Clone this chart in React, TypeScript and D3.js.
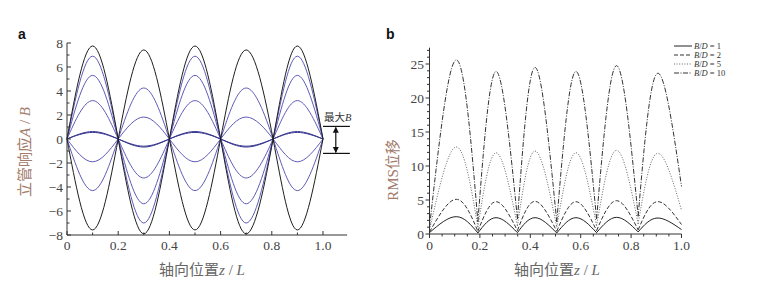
import React from "react";
import * as d3 from "d3";

// ---------- Panel a data ----------
const zPointsA = [0, 0.1, 0.2, 0.3, 0.4, 0.5, 0.6, 0.7, 0.805, 0.9, 1.0];
// values at extrema (z = 0.1, 0.3, 0.5, 0.7, 0.9); nodes are 0
const blackExtrema = [
  [7.75, -7.9, 7.75, -7.9, 7.75],
  [-7.58, 7.42, -7.58, 7.42, -7.58],
];
const blueExtrema = [
  [6.9, -7.0, 6.9, -7.0, 6.9],
  [5.3, -5.4, 5.3, -5.4, 5.3],
  [3.2, -3.25, 3.2, -3.25, 3.2],
  [-1.9, 1.83, -1.9, 1.83, -1.9],
  [-4.3, 4.25, -4.3, 4.25, -4.3],
];
const darkBlueExtrema = [
  [0.62, -0.67, 0.62, -0.67, 0.62],
  [0.55, -0.6, 0.55, -0.6, 0.55],
];
const maxBBracket = [1.05, -1.2];
const xTicksA = [0, 0.2, 0.4, 0.6, 0.8, 1.0];
const yTicksA = [8, 6, 4, 2, 0, -2, -4, -6, -8];

// ---------- Panel b data ----------
const zNodesB = [0, 0.192, 0.349, 0.505, 0.663, 0.828, 1.0];
const zPeaksB = [0.106, 0.264, 0.419, 0.581, 0.742, 0.903];
const seriesNames = ["1", "2", "5", "10"];
const peaksB = [
  [2.55, 2.4, 2.4, 2.4, 2.45, 2.35],
  [5.1, 4.75, 4.8, 4.75, 4.9, 4.75],
  [12.8, 11.95, 12.2, 11.95, 12.3, 11.85],
  [25.6, 23.9, 24.5, 23.9, 24.75, 23.6],
];
const nodesB = [
  [0.2, 0.15, 0.2, 0.15, 0.2, 0.3, 0.65],
  [0.3, 0.4, 0.5, 0.4, 0.5, 0.6, 1.4],
  [0.6, 1.0, 1.2, 1.0, 1.2, 1.5, 3.5],
  [1.0, 1.8, 2.2, 1.8, 2.2, 2.6, 7.0],
];
const xTicksB = [0, 0.2, 0.4, 0.6, 0.8, 1.0];
const yTicksB = [0, 5, 10, 15, 20, 25];

const serif = "'Liberation Serif', 'DejaVu Serif', serif";
const cjk = "'Noto Sans CJK SC', sans-serif";

const dashStyles = ["none", "4,2", "1,1.6", "5,1.5,1,1.5"];
const seriesColors = ["#222", "#333", "#666", "#333"];

function fmt(v: number) {
  if (v === 0) return "0";
  if (v < 0) return "\u2212" + Math.abs(v);
  return String(v);
}

export default function App() {
  // Panel a scales
  const xA = d3.scaleLinear().domain([0, 1]).range([67, 323]);
  const yA = d3.scaleLinear().domain([-8, 8]).range([235, 43]);
  const lineA = d3
    .line<[number, number]>()
    .x((d) => xA(d[0]))
    .y((d) => yA(d[1]))
    .curve(d3.curveNatural);
  const toPts = (ext: number[]): [number, number][] =>
    zPointsA.map((z, i) => [z, i % 2 === 1 ? ext[(i - 1) / 2] : 0]);

  // Panel b scales
  const xB = d3.scaleLinear().domain([0, 1]).range([429.5, 681.5]);
  const yB = d3.scaleLinear().domain([0, 25]).range([234, 64]);
  const lineB = d3
    .line<[number, number]>()
    .x((d) => xB(d[0]))
    .y((d) => yB(d[1]))
    .curve(d3.curveNatural);
  const seriesPath = (s: number) =>
    zPeaksB
      .map((zp, i) =>
        lineB([
          [zNodesB[i], nodesB[s][i]],
          [zp, peaksB[s][i]],
          [zNodesB[i + 1], nodesB[s][i + 1]],
        ])
      )
      .join("");

  const minorXA = d3.range(0, 1.01, 0.1);
  const minorYA = d3.range(-8, 8.01, 1);
  const minorXB = d3.range(0, 1.001, 0.05);
  const minorYB = d3.range(0, 27.01, 1);

  const arrowX = (xA(1.0) + xA(1.1)) / 2;

  return (
    <svg
      width={777}
      height={308}
      style={{ position: "absolute", left: 0, top: 0, background: "#fff" }}
    >
      <defs>
        <marker id="ah" viewBox="0 0 10 10" refX="9" refY="5" markerWidth="5" markerHeight="6" orient="auto-start-reverse">
          <path d="M0,0 L10,5 L0,10 z" fill="#111" />
        </marker>
      </defs>
      {/* ---------- Panel a ---------- */}
      <text x={18} y={39} fontFamily="Arial, 'Liberation Sans', sans-serif" fontWeight="bold" fontSize={14} fill="#111">a</text>
      <g>
        {blueExtrema.map((e, i) => (
          <path key={"bl" + i} d={lineA(toPts(e)) || ""} fill="none" stroke="#5f5bb8" strokeWidth={1} />
        ))}
        {darkBlueExtrema.map((e, i) => (
          <path key={"db" + i} d={lineA(toPts(e)) || ""} fill="none" stroke="#34338f" strokeWidth={1} />
        ))}
        {blackExtrema.map((e, i) => (
          <path key={"bk" + i} d={lineA(toPts(e)) || ""} fill="none" stroke="#1e1e1e" strokeWidth={1} />
        ))}
      </g>
      {/* axes a */}
      <line x1={xA(0)} x2={xA(0)} y1={yA(-8)} y2={yA(8)} stroke="#333" strokeWidth={1} />
      <line x1={xA(0)} x2={xA(1.094)} y1={yA(-8)} y2={yA(-8)} stroke="#333" strokeWidth={1} />
      {minorXA.map((t, i) => (
        <line key={"mxa" + i} x1={xA(t)} x2={xA(t)} y1={yA(-8)} y2={yA(-8) - (i % 2 === 0 ? 4 : 2.5)} stroke="#333" />
      ))}
      {minorYA.map((t, i) => (
        <line key={"mya" + i} x1={xA(0)} x2={xA(0) + (i % 2 === 0 ? 4 : 2.5)} y1={yA(t)} y2={yA(t)} stroke="#333" />
      ))}
      {xTicksA.map((t) => (
        <text key={"xa" + t} x={xA(t)} y={250} textAnchor="middle" fontFamily={serif} fontSize={13.5} fill="#444">
          {t === 0 ? "0" : t.toFixed(1)}
        </text>
      ))}
      {yTicksA.map((t) => (
        <text key={"ya" + t} x={63} y={yA(t) + 4.5} textAnchor="end" fontFamily={serif} fontSize={13.5} fill="#444">
          {fmt(t)}
        </text>
      ))}
      <text x={202} y={275} textAnchor="middle" fontSize={15} fill="#666">
        <tspan fontFamily={cjk}>轴向位置</tspan>
        <tspan fontFamily={serif} fontStyle="italic">z</tspan>
        <tspan fontFamily={serif}> / </tspan>
        <tspan fontFamily={serif} fontStyle="italic">L</tspan>
      </text>
      <text transform={`translate(30,152) rotate(-90)`} textAnchor="middle" fontSize={15} fill="#a27c6c">
        <tspan fontFamily={cjk}>立管响应</tspan>
        <tspan fontFamily={serif} fontStyle="italic">A</tspan>
        <tspan fontFamily={serif}> / </tspan>
        <tspan fontFamily={serif} fontStyle="italic">B</tspan>
      </text>
      {/* max B bracket */}
      {maxBBracket.map((v, i) => (
        <line key={"mb" + i} x1={xA(1.0)} x2={xA(1.105)} y1={yA(v)} y2={yA(v)} stroke="#111" strokeWidth={1.2} />
      ))}
      <line x1={arrowX} x2={arrowX} y1={yA(maxBBracket[0]) + 1} y2={yA(maxBBracket[1]) - 1} stroke="#111" strokeWidth={1.2} markerStart="url(#ah)" markerEnd="url(#ah)" />
      <text x={324} y={121} fontSize={10.5} fill="#333">
        <tspan fontFamily={cjk}>最大</tspan>
        <tspan fontFamily={serif} fontStyle="italic">B</tspan>
      </text>

      {/* ---------- Panel b ---------- */}
      <text x={386} y={39} fontFamily="Arial, 'Liberation Sans', sans-serif" fontWeight="bold" fontSize={14} fill="#111">b</text>
      {seriesNames.map((n, s) => (
        <path key={"sb" + n} d={seriesPath(s)} fill="none" stroke={seriesColors[s]} strokeWidth={1} strokeDasharray={dashStyles[s]} />
      ))}
      <line x1={xB(0)} x2={xB(0)} y1={yB(0)} y2={yB(27.4)} stroke="#333" strokeWidth={1} />
      <line x1={xB(0)} x2={xB(1)} y1={yB(0)} y2={yB(0)} stroke="#333" strokeWidth={1} />
      {minorXB.map((t, i) => (
        <line key={"mxb" + i} x1={xB(t)} x2={xB(t)} y1={yB(0)} y2={yB(0) + (i % 4 === 0 ? 4 : 2.5)} stroke="#333" />
      ))}
      {minorYB.map((t, i) => (
        <line key={"myb" + i} x1={xB(0)} x2={xB(0) - (i % 5 === 0 ? 4 : 2.5)} y1={yB(t)} y2={yB(t)} stroke="#333" />
      ))}
      {xTicksB.map((t) => (
        <text key={"xb" + t} x={xB(t)} y={250} textAnchor="middle" fontFamily={serif} fontSize={13.5} fill="#444">
          {t === 0 ? "0" : t.toFixed(1)}
        </text>
      ))}
      {yTicksB.map((t) => (
        <text key={"yb" + t} x={424} y={yB(t) + 4.5} textAnchor="end" fontFamily={serif} fontSize={13.5} fill="#444">
          {String(t)}
        </text>
      ))}
      <text x={557} y={275} textAnchor="middle" fontSize={15} fill="#666">
        <tspan fontFamily={cjk}>轴向位置</tspan>
        <tspan fontFamily={serif} fontStyle="italic">z</tspan>
        <tspan fontFamily={serif}> / </tspan>
        <tspan fontFamily={serif} fontStyle="italic">L</tspan>
      </text>
      <text transform={`translate(398,170) rotate(-90)`} textAnchor="middle" fontSize={15} fill="#a27c6c">
        <tspan fontFamily={serif}>RMS</tspan>
        <tspan fontFamily={cjk}>位移</tspan>
      </text>
      {/* legend */}
      {seriesNames.map((n, s) => (
        <g key={"lg" + n}>
          <line x1={674} x2={692} y1={46 + s * 9} y2={46 + s * 9} stroke={seriesColors[s]} strokeWidth={1} strokeDasharray={dashStyles[s]} />
          <text x={694} y={49 + s * 9} fontFamily={serif} fontSize={8.5} fill="#333">
            <tspan fontStyle="italic">B</tspan>
            <tspan>/</tspan>
            <tspan fontStyle="italic">D</tspan>
            <tspan>{` = ${n}`}</tspan>
          </text>
        </g>
      ))}
    </svg>
  );
}
